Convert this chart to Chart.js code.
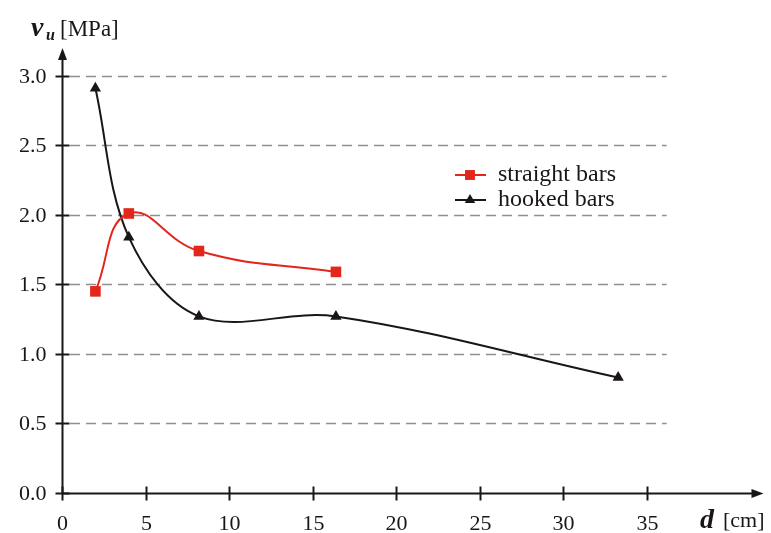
<!DOCTYPE html>
<html lang="en">
<head>
  <meta charset="UTF-8">
  <title>v_u vs d</title>
  <script src="https://cdn.jsdelivr.net/npm/chart.js"></script>
  <style>
    html, body { margin: 0; padding: 0; background: #fff; }
    #wrap { width: 771px; height: 533px; }
  </style>
</head>
<body>
  <div id="wrap"><canvas id="chart" width="771" height="533"></canvas></div>

  <script>
    // data
    const straightD = [2.0, 4.0, 8.2, 16.4];
    const straightV = [1.45, 2.01, 1.74, 1.59];
    const hookedD = [2.0, 4.0, 8.2, 16.4, 33.3];
    const hookedV = [2.91, 1.84, 1.27, 1.27, 0.83];
    const xTicks = [0, 5, 10, 15, 20, 25, 30, 35];
    const yTicks = [0.0, 0.5, 1.0, 1.5, 2.0, 2.5, 3.0];
    const seriesNames = ['straight bars', 'hooked bars'];

    const RED = '#e3261c';
    const BLACK = '#1b1616';
    const SERIF = '"Liberation Serif", "Times New Roman", serif';

    const toPts = (xs, ys) => xs.map((x, i) => ({ x: x, y: ys[i] }));

    // axes, grid, labels and legend drawn by hand (Excel-like look)
    const decor = {
      id: 'decor',
      beforeDatasetsDraw(chart) {
        const { ctx, scales: { x, y } } = chart;
        const x0 = x.getPixelForValue(0);
        ctx.save();
        ctx.strokeStyle = '#8f8f8f';
        ctx.lineWidth = 1.4;
        ctx.setLineDash([10, 6]);
        yTicks.forEach(v => {
          if (v === 0) return;
          const py = Math.round(y.getPixelForValue(v)) + 0.5;
          ctx.beginPath();
          ctx.moveTo(x0 + 8, py);
          ctx.lineTo(x.getPixelForValue(36.2), py);
          ctx.stroke();
        });
        ctx.restore();
      },
      afterDraw(chart) {
        const { ctx, chartArea, scales: { x, y } } = chart;
        const x0 = Math.round(x.getPixelForValue(0)) + 0.5;
        const y0 = Math.round(y.getPixelForValue(0)) + 0.5;
        ctx.save();
        ctx.strokeStyle = BLACK;
        ctx.fillStyle = BLACK;
        ctx.lineWidth = 2;
        // axes
        ctx.beginPath();
        ctx.moveTo(x0, y0);
        ctx.lineTo(chartArea.right - 8, y0);
        ctx.moveTo(x0, y0);
        ctx.lineTo(x0, chartArea.top + 8);
        ctx.stroke();
        // arrow heads
        ctx.beginPath();
        ctx.moveTo(chartArea.right, y0);
        ctx.lineTo(chartArea.right - 12, y0 - 4.5);
        ctx.lineTo(chartArea.right - 12, y0 + 4.5);
        ctx.closePath();
        ctx.fill();
        ctx.beginPath();
        ctx.moveTo(x0, chartArea.top);
        ctx.lineTo(x0 - 4.5, chartArea.top + 12);
        ctx.lineTo(x0 + 4.5, chartArea.top + 12);
        ctx.closePath();
        ctx.fill();
        // tick marks and labels
        ctx.font = '22px ' + SERIF;
        ctx.textBaseline = 'middle';
        ctx.textAlign = 'right';
        yTicks.forEach(v => {
          const py = Math.round(y.getPixelForValue(v)) + 0.5;
          ctx.beginPath();
          ctx.moveTo(x0 - 7, py);
          ctx.lineTo(x0 + 7, py);
          ctx.stroke();
          ctx.fillText(v.toFixed(1), x0 - 16, py + 1);
        });
        ctx.textAlign = 'center';
        ctx.textBaseline = 'alphabetic';
        xTicks.forEach(v => {
          const px = Math.round(x.getPixelForValue(v)) + 0.5;
          ctx.beginPath();
          ctx.moveTo(px, y0 - 7);
          ctx.lineTo(px, y0 + 7);
          ctx.stroke();
          ctx.fillText(String(v), px, y0 + 36);
        });
        // axis titles
        ctx.textAlign = 'left';
        ctx.font = 'bold italic 28px ' + SERIF;
        ctx.fillText('d', 700, 528);
        ctx.font = '22px ' + SERIF;
        ctx.fillText('[cm]', 723, 527);
        ctx.font = 'bold italic 28px ' + SERIF;
        ctx.fillText('v', 31, 36);
        ctx.font = 'bold italic 16px ' + SERIF;
        ctx.fillText('u', 46, 40);
        ctx.font = '23px ' + SERIF;
        ctx.fillText('[MPa]', 60, 36);
        // legend
        const items = [
          { name: seriesNames[0], color: RED, style: 'rect', radius: 7, yy: 175 },
          { name: seriesNames[1], color: BLACK, style: 'triangle', radius: 6, yy: 200 }
        ];
        items.forEach(it => {
          ctx.strokeStyle = it.color;
          ctx.fillStyle = it.color;
          ctx.lineWidth = 2;
          ctx.beginPath();
          ctx.moveTo(455, it.yy);
          ctx.lineTo(486, it.yy);
          ctx.stroke();
          Chart.helpers.drawPoint(ctx, { pointStyle: it.style, radius: it.radius, borderWidth: 0 }, 470, it.yy);
          ctx.fillStyle = BLACK;
          ctx.font = '24px ' + SERIF;
          ctx.textBaseline = 'middle';
          ctx.fillText(it.name, 498, it.yy);
        });
        ctx.restore();
      }
    };

    new Chart(document.getElementById('chart'), {
      type: 'line',
      data: {
        datasets: [
          {
            label: seriesNames[0],
            data: toPts(straightD, straightV),
            borderColor: RED,
            backgroundColor: RED,
            borderWidth: 2,
            tension: 0.45,
            pointStyle: 'rect',
            pointRadius: 7.5,
            pointBorderWidth: 0,
            clip: false
          },
          {
            label: seriesNames[1],
            data: toPts(hookedD, hookedV),
            borderColor: BLACK,
            backgroundColor: BLACK,
            borderWidth: 2,
            tension: 0.35,
            pointStyle: 'triangle',
            pointRadius: 6.5,
            pointBorderWidth: 0,
            clip: false
          }
        ]
      },
      options: {
        responsive: false,
        animation: false,
        layout: { padding: { left: 62, right: 3, top: 48, bottom: 40 } },
        plugins: { legend: { display: false }, tooltip: { enabled: false } },
        scales: {
          x: { type: 'linear', min: 0, max: 42, display: false },
          y: { type: 'linear', min: 0, max: 3.2, display: false }
        }
      },
      plugins: [decor]
    });
  </script>
</body>
</html>
